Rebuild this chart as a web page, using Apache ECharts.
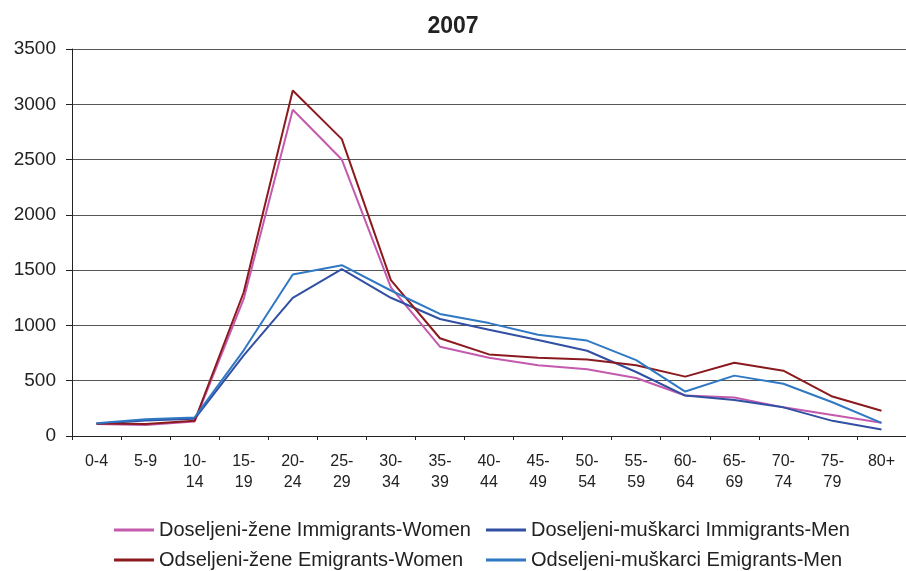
<!DOCTYPE html>
<html>
<head>
<meta charset="utf-8">
<script src="https://cdn.jsdelivr.net/npm/echarts@6/dist/echarts.min.js"></script>
<style>
html,body{margin:0;padding:0;background:#fff;}
#c{width:906px;height:571px;}
</style>
</head>
<body>
<div id="c"></div>
<script>
const categories = ['0-4','5-9','10-\n14','15-\n19','20-\n24','25-\n29','30-\n34','35-\n39','40-\n44','45-\n49','50-\n54','55-\n59','60-\n64','65-\n69','70-\n74','75-\n79','80+'];
const immigrantsWomen = [108, 100, 130, 1240, 2950, 2500, 1345, 808, 707, 640, 604, 524, 366, 348, 259, 189, 119];
const immigrantsMen   = [110, 140, 155, 729, 1250, 1509, 1250, 1058, 960, 869, 771, 579, 366, 326, 259, 137, 58];
const emigrantsWomen  = [112, 108, 138, 1300, 3125, 2685, 1410, 884, 738, 707, 692, 640, 537, 662, 591, 357, 229];
const emigrantsMen    = [115, 152, 168, 775, 1461, 1545, 1316, 1104, 1021, 915, 863, 686, 402, 546, 473, 305, 119];
const yTicks = [0, 500, 1000, 1500, 2000, 2500, 3000, 3500];

const names = [
  'Doseljeni-žene Immigrants-Women',
  'Doseljeni-muškarci Immigrants-Men',
  'Odseljeni-žene Emigrants-Women',
  'Odseljeni-muškarci Emigrants-Men'
];
const colors = ['#C45AAE', '#3150A3', '#8B1A1F', '#2F78C4'];
const FONT = 'Liberation Sans, Arial, sans-serif';

function leg(name, left, top) {
  return {
    data: [name], left: left, top: top, icon: 'rect', itemWidth: 40, itemHeight: 3,
    padding: 0, textStyle: { fontSize: 20, color: '#222', fontFamily: FONT }
  };
}

const chart = echarts.init(document.getElementById('c'), null, { renderer: 'canvas' });
chart.setOption({
  animation: false,
  color: colors,
  title: {
    text: '2007', left: 'center', top: 10,
    textStyle: { fontSize: 23, fontWeight: 'bold', color: '#222', fontFamily: FONT }
  },
  legend: [
    leg(names[0], 114, 520),
    leg(names[1], 486, 520),
    leg(names[2], 114, 550),
    leg(names[3], 486, 550)
  ],
  grid: { left: 72, right: 0, top: 49, bottom: 135, containLabel: false },
  xAxis: {
    type: 'category', data: categories, boundaryGap: true,
    axisLine: { lineStyle: { color: '#222', width: 1 } },
    axisTick: { show: true, length: 4, interval: 0, lineStyle: { color: '#222' } },
    axisLabel: { interval: 0, fontSize: 16, lineHeight: 21, color: '#222', margin: 15, fontFamily: FONT }
  },
  yAxis: {
    type: 'value', min: yTicks[0], max: yTicks[yTicks.length - 1], interval: yTicks[1] - yTicks[0],
    axisLine: { show: true, lineStyle: { color: '#222', width: 1 } },
    axisTick: { show: true, length: 6, lineStyle: { color: '#222' } },
    axisLabel: { fontSize: 19, color: '#222', margin: 16, fontFamily: FONT, formatter: function (v) { return String(v); } },
    splitLine: { show: true, lineStyle: { color: '#555', width: 1 } }
  },
  series: [
    { name: names[0], type: 'line', data: immigrantsWomen, symbol: 'none', lineStyle: { width: 2, color: colors[0] }, itemStyle: { color: colors[0] } },
    { name: names[1], type: 'line', data: immigrantsMen, symbol: 'none', lineStyle: { width: 2, color: colors[1] }, itemStyle: { color: colors[1] } },
    { name: names[2], type: 'line', data: emigrantsWomen, symbol: 'none', lineStyle: { width: 2, color: colors[2] }, itemStyle: { color: colors[2] } },
    { name: names[3], type: 'line', data: emigrantsMen, symbol: 'none', lineStyle: { width: 2, color: colors[3] }, itemStyle: { color: colors[3] } }
  ]
});
</script>
</body>
</html>
